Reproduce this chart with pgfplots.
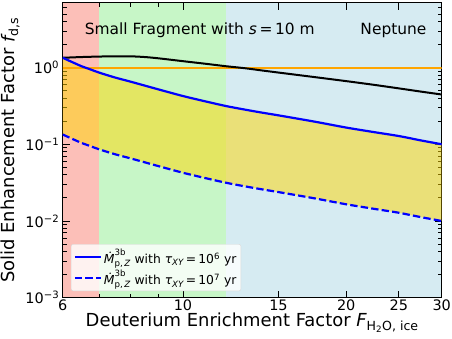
\documentclass[border=0pt]{standalone}
\usepackage{fontspec}
\setmainfont{DejaVu Sans}
\usepackage{amsmath}
\usepackage{pgfplots}
\pgfplotsset{compat=1.18}
\usepgfplotslibrary{fillbetween}
\definecolor{bandred}{RGB}{252,191,184}
\definecolor{bandgreen}{RGB}{199,246,199}
\definecolor{bandblue}{RGB}{214,235,242}
\definecolor{mplorange}{RGB}{255,165,0}
\definecolor{mplgold}{RGB}{255,215,0}
\definecolor{mplblue}{RGB}{0,0,255}
\pgfplotstableread{
x y
6 1.34
6.25 1.175
6.5 1.04
6.75 0.945
7 0.86
7.5 0.74
8 0.655
9 0.52
10 0.425
11 0.362
12 0.315
13 0.283
14 0.258
15 0.238
17.5 0.197
20 0.165
22.5 0.144
25 0.128
27.5 0.112
30 0.1
}\solidtab
\pgfplotstableread{
x y
6 0.134
6.25 0.1175
6.5 0.104
6.75 0.0945
7 0.086
7.5 0.074
8 0.0655
9 0.052
10 0.0425
11 0.0362
12 0.0315
13 0.0283
14 0.0258
15 0.0238
17.5 0.0197
20 0.0165
22.5 0.0144
25 0.0128
27.5 0.0112
30 0.01
}\dashtab
\pgfplotstableread{
x y
6 1.34
6.5 1.37
7 1.39
7.5 1.40
8 1.40
8.5 1.37
9 1.32
10 1.21
11 1.12
12 1.04
13 0.98
14 0.915
15 0.86
17.5 0.75
20 0.665
22.5 0.595
25 0.535
27.5 0.485
30 0.445
}\blacktab
\begin{document}
\begin{tikzpicture}
\begin{axis}[name=ax, set layers,
  scale only axis, width=379bp, height=295bp,
  xmode=log, ymode=log,
  xmin=6, xmax=30, ymin=1e-3, ymax=7,
  axis line style={line width=0.8bp},
  every tick/.style={black, line width=0.8bp},
  major tick length=7bp, minor tick length=4bp,
  tick align=inside, xtick pos=both, ytick pos=both,
  xticklabel pos=left, yticklabel pos=left,
  xtick={6,10,15,20,25,30}, xticklabels={6,10,15,20,25,30},
  minor xtick={7,8,9},
  ytick={1e-3,1e-2,1e-1,1},
  yticklabels={10\textsuperscript{−3},10\textsuperscript{−2},10\textsuperscript{−1},10\textsuperscript{0}},
  minor ytick={2e-3,3e-3,4e-3,5e-3,6e-3,7e-3,8e-3,9e-3,2e-2,3e-2,4e-2,5e-2,6e-2,7e-2,8e-2,9e-2,0.2,0.3,0.4,0.5,0.6,0.7,0.8,0.9,2,3,4,5,6,7},
  ticklabel style={font=\fontsize{14.5}{16}\selectfont},
  xticklabel style={inner sep=0.5bp, yshift=-1.5bp},
  xlabel={Deuterium Enrichment Factor {\itshape F}\textsubscript{H\textsubscript{2}O, ice}},
  ylabel={Solid Enhancement Factor {\itshape f}\textsubscript{d,s}},
  label style={font=\fontsize{18}{20}\selectfont, inner sep=0pt},
  xlabel style={at={(axis description cs:0.5,-0.099)}, anchor=base},
  ylabel style={at={(axis description cs:-0.127,0.5)}, anchor=base},
  legend style={at={(axis description cs:0.022,0.0225)}, anchor=south west,
    font=\fontsize{12.4}{14}\selectfont, draw=black!15, fill=white, fill opacity=0.8, text opacity=1,
    rounded corners=2bp, row sep=1.2bp, inner sep=2.5bp},
  legend cell align=left,
  legend image code/.code={\draw[#1] (0bp,0bp) -- (26bp,0bp);},
]
\addplot[draw=none, fill=bandred, forget plot, on layer=axis background] coordinates {(6,1e-3) (6,7) (7,7) (7,1e-3)} -- cycle;
\addplot[draw=none, fill=bandgreen, forget plot, on layer=axis background] coordinates {(7,1e-3) (7,7) (12,7) (12,1e-3)} -- cycle;
\addplot[draw=none, fill=bandblue, forget plot, on layer=axis background] coordinates {(12,1e-3) (12,7) (30,7) (30,1e-3)} -- cycle;
\addplot[draw=none, name path=S, forget plot] table {\solidtab};
\addplot[draw=none, name path=D, forget plot] table {\dashtab};
\addplot[draw=none, fill=mplgold, fill opacity=0.5, forget plot] fill between[of=S and D];
\addplot[mplorange, line width=2bp, forget plot] coordinates {(6,1) (30,1)};
\addplot[black, line width=2bp, smooth, forget plot] table {\blacktab};
\addplot[mplblue, line width=2.2bp, smooth] table {\solidtab};
\addlegendentry{$\text{\itshape \.{M}}^{\text{3b}}_{\text{p,\,\itshape Z}}$ with $\text{\itshape τ}_{\text{\itshape XY}}$\,=\,10\textsuperscript{6} yr}
\addplot[mplblue, line width=2.2bp, smooth, dash pattern=on 7.4bp off 3.2bp] table {\dashtab};
\addlegendentry{$\text{\itshape \.{M}}^{\text{3b}}_{\text{p,\,\itshape Z}}$ with $\text{\itshape τ}_{\text{\itshape XY}}$\,=\,10\textsuperscript{7} yr}
\node[anchor=base, font=\fontsize{15.5}{17}\selectfont] at (rel axis cs:0.3615,0.8915) {Small Fragment with {\itshape s}\,=\,10 m};
\node[anchor=base east, font=\fontsize{15.5}{17}\selectfont] at (rel axis cs:0.969,0.8915) {Neptune};
\end{axis}
\pgfresetboundingbox
\path ([xshift=-62.7bp,yshift=-41.3bp]ax.south west) rectangle ([xshift=10.3bp,yshift=2.7bp]ax.north east);
\end{tikzpicture}
\end{document}
